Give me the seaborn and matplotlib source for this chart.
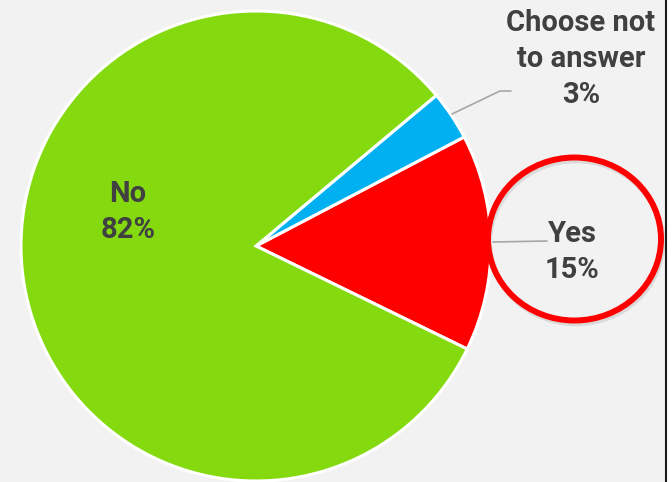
import matplotlib.pyplot as plt
import seaborn as sns
from matplotlib.patches import Ellipse

# === Data ===
answers = ["Yes", "Choose not\nto answer", "No"]
shares = [14.9, 3.4, 81.7]
colors = ["#FF0000", "#00B0F0", "#84DA0F"]

# label positions (figure pixels, y down)
label_pos = [(572, 252), (581, 59), (128, 212)]

sns.set_theme(style="white")
plt.rcParams["font.family"] = ["Roboto", "DejaVu Sans"]

W, H = 672, 482
fig = plt.figure(figsize=(W / 100, H / 100), dpi=100, facecolor="#F2F2F2")
ax = fig.add_axes([0, 0, 1, 1])
ax.set_facecolor("#F2F2F2")
ax.set_xlim(0, W)
ax.set_ylim(0, H)
ax.set_aspect("equal")
ax.axis("off")

# === Pie ===
ax.pie(shares, colors=colors, startangle=-26, counterclock=True,
       center=(256, H - 246), radius=235,
       wedgeprops=dict(edgecolor="white", linewidth=2.2))
ax.set_xlim(0, W)
ax.set_ylim(0, H)

# === Labels ===
for name, val, (x, y) in zip(answers, shares, label_pos):
    ax.text(x, H - y, f"{name}\n{round(val)}%", ha="center", va="center",
            fontsize=21, fontweight="bold", color="#404040", linespacing=1.38)

# leader lines
ax.plot([452, 500, 511], [H - 114, H - 91, H - 91], color="#A6A6A6", lw=1.2)
ax.plot([493, 547], [H - 242, H - 241], color="#A6A6A6", lw=1.2)

# === Highlight circle around "Yes" ===
ax.add_patch(Ellipse((576, H - 242), 173, 163, fill=False,
                     edgecolor="#B0B0B0", lw=4, alpha=0.35))
ax.add_patch(Ellipse((574.5, H - 239), 173, 163, fill=False,
                     edgecolor="#FF0000", lw=4.3))

# right border
ax.axvspan(667, W, color="white", zorder=5)
ax.axvline(666, color="#1A1A1A", lw=1.5, zorder=6)

fig.savefig("out.png", dpi=100, facecolor=fig.get_facecolor())
